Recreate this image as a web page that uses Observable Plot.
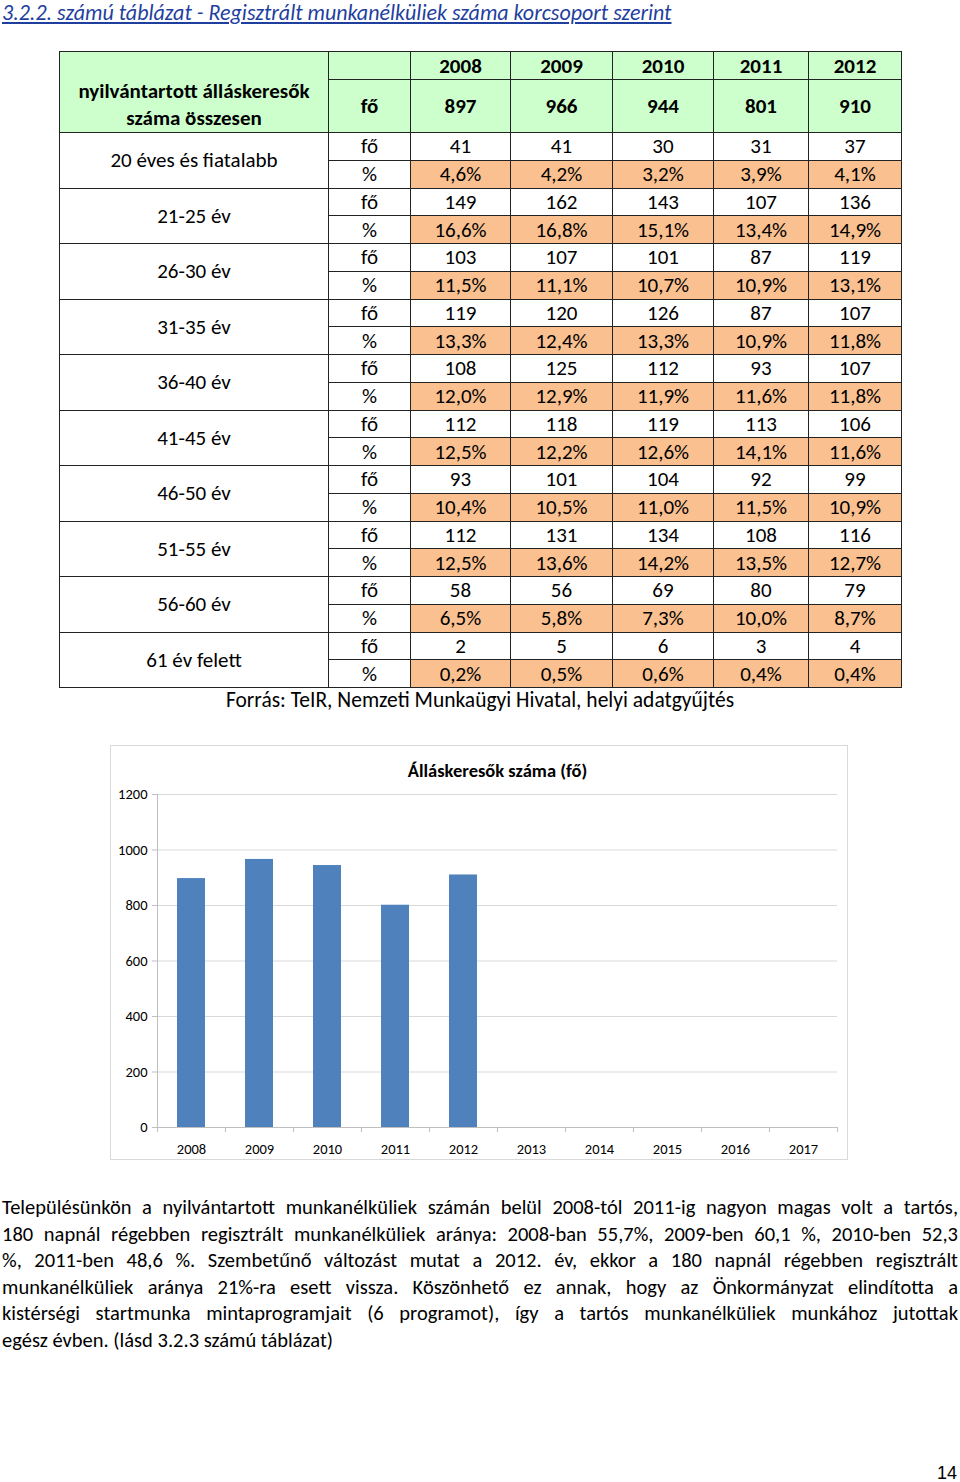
<!DOCTYPE html>
<html><head><meta charset="utf-8">
<script src="https://cdn.jsdelivr.net/npm/d3@7"></script>
<script src="https://cdn.jsdelivr.net/npm/@observablehq/plot@0.6"></script>
<style>
body{margin:0;background:#fff;font-family:Carlito,Lato,sans-serif;color:#000;}
#page{position:relative;width:960px;height:1482px;overflow:hidden;background:#fff;}
#title{position:absolute;left:2px;top:0;font-size:22px;font-style:italic;text-decoration:underline;color:#1f3f9f;line-height:26px;white-space:nowrap;}
table{position:absolute;left:59px;top:51px;border-collapse:collapse;table-layout:fixed;width:842px;}
td{border:1px solid #222;padding:0;text-align:center;font-size:21px;line-height:22px;overflow:hidden;white-space:nowrap;}
td.g{background:#ccffcc;font-weight:bold;}
td.o{background:#fac090;}
td.lbl{vertical-align:middle;}
td.tot{vertical-align:bottom;white-space:normal;line-height:27px;padding-bottom:0;}
#source{position:absolute;left:59px;width:842px;top:688px;text-align:center;font-size:21.5px;line-height:24px;}
#chart{position:absolute;left:110px;top:745px;width:738px;height:415px;border:1px solid #d9d9d9;box-sizing:border-box;}
#chart svg{display:block;}
#para{position:absolute;left:2px;top:1194px;width:956px;font-size:20.5px;}
#para div{line-height:26.6px;height:26.6px;text-align:justify;text-align-last:justify;white-space:nowrap;}
#para div.last{text-align-last:left;}
#pnum{position:absolute;right:3px;top:1462px;font-family:"Liberation Sans",Arial,sans-serif;font-size:18px;line-height:22px;}
</style></head>
<body>
<div id="page">
  <div id="title"></div>
  <table id="tbl"></table>
  <div id="source"></div>
  <div id="chart"></div>
  <div id="para"></div>
  <div id="pnum">14</div>
</div>
<script>
const titleText = "3.2.2. számú táblázat - Regisztrált munkanélküliek száma korcsoport szerint";
const tableYears = [2008, 2009, 2010, 2011, 2012];
const totalLabel = "nyilvántartott álláskeresők száma összesen";
const totals = [897, 966, 944, 801, 910];
const ageGroups = ["20 éves és fiatalabb", "21-25 év", "26-30 év", "31-35 év", "36-40 év", "41-45 év", "46-50 év", "51-55 év", "56-60 év", "61 év felett"];
const groupCounts = [
  [41, 41, 30, 31, 37],
  [149, 162, 143, 107, 136],
  [103, 107, 101, 87, 119],
  [119, 120, 126, 87, 107],
  [108, 125, 112, 93, 107],
  [112, 118, 119, 113, 106],
  [93, 101, 104, 92, 99],
  [112, 131, 134, 108, 116],
  [58, 56, 69, 80, 79],
  [2, 5, 6, 3, 4]
];
const groupPercents = [
  [4.6, 4.2, 3.2, 3.9, 4.1],
  [16.6, 16.8, 15.1, 13.4, 14.9],
  [11.5, 11.1, 10.7, 10.9, 13.1],
  [13.3, 12.4, 13.3, 10.9, 11.8],
  [12.0, 12.9, 11.9, 11.6, 11.8],
  [12.5, 12.2, 12.6, 14.1, 11.6],
  [10.4, 10.5, 11.0, 11.5, 10.9],
  [12.5, 13.6, 14.2, 13.5, 12.7],
  [6.5, 5.8, 7.3, 10.0, 8.7],
  [0.2, 0.5, 0.6, 0.4, 0.4]
];
const unitCount = "fő";
const unitPct = "%";
const sourceText = "Forrás: TeIR, Nemzeti Munkaügyi Hivatal, helyi adatgyűjtés";

const chartTitle = "Álláskeresők száma (fő)";
const chartYears = ["2008", "2009", "2010", "2011", "2012", "2013", "2014", "2015", "2016", "2017"];
const chartValues = [897, 966, 944, 801, 910, null, null, null, null, null];
const yTicks = [0, 200, 400, 600, 800, 1000, 1200];

const paragraphLines = [
  "Településünkön a nyilvántartott munkanélküliek számán belül 2008-tól 2011-ig nagyon magas volt a tartós,",
  "180 napnál régebben regisztrált munkanélküliek aránya: 2008-ban 55,7%, 2009-ben 60,1 %, 2010-ben 52,3",
  "%, 2011-ben 48,6 %. Szembetűnő változást mutat a 2012. év, ekkor a 180 napnál régebben regisztrált",
  "munkanélküliek aránya 21%-ra esett vissza. Köszönhető ez annak, hogy az Önkormányzat elindította a",
  "kistérségi startmunka mintaprogramjait (6 programot), így a tartós munkanélküliek munkához jutottak",
  "egész évben. (lásd 3.2.3 számú táblázat)"
];

// ---- title
document.getElementById("title").textContent = titleText;

// ---- table
const colWidths = [269, 82, 100, 102, 101, 95, 93];
const tbl = d3.select("#tbl");
const cg = tbl.append("colgroup");
colWidths.forEach(w => cg.append("col").style("width", w + "px"));
const fmtPct = v => v.toFixed(1).replace(".", ",") + "%";
let tr = tbl.append("tr").style("height", "28px");
tr.append("td").attr("class", "g tot").attr("rowspan", 2).text(totalLabel);
tr.append("td").attr("class", "g");
tableYears.forEach(y => tr.append("td").attr("class", "g").text(y));
tr = tbl.append("tr").style("height", "53px");
tr.append("td").attr("class", "g").text(unitCount);
totals.forEach(v => tr.append("td").attr("class", "g").text(v));
ageGroups.forEach((g, i) => {
  let r1 = tbl.append("tr").style("height", "27.75px");
  r1.append("td").attr("class", "lbl").attr("rowspan", 2).text(g);
  r1.append("td").text(unitCount);
  groupCounts[i].forEach(v => r1.append("td").text(v));
  let r2 = tbl.append("tr").style("height", "27.75px");
  r2.append("td").text(unitPct);
  groupPercents[i].forEach(v => r2.append("td").attr("class", "o").text(fmtPct(v)));
});
document.getElementById("source").textContent = sourceText;

// ---- chart
const chartData = chartYears.map((y, i) => ({year: y, value: chartValues[i]}));
const axisGray = "#bfbfbf";
const chart = Plot.plot({
  width: 736, height: 413,
  marginLeft: 46, marginRight: 10, marginTop: 48, marginBottom: 32,
  style: {fontFamily: "Carlito, Lato, sans-serif", fontSize: "14.5px", color: "#000", background: "transparent"},
  x: {type: "band", domain: chartYears, paddingInner: 0.59, paddingOuter: 0.295, label: null},
  y: {domain: [0, 1200], label: null},
  marks: [
    Plot.gridY(yTicks, {stroke: "#d9d9d9", strokeOpacity: 1}),
    Plot.frame({anchor: "left", stroke: axisGray}),
    Plot.barY(chartData.filter(d => d.value != null), {x: "year", y: "value", fill: "#4f81bd"}),
    Plot.ruleY([0], {stroke: axisGray}),
    Plot.axisY(yTicks, {tickSize: 5, tickPadding: 5, tickFormat: d3.format("d"), stroke: axisGray, fill: "#000", label: null}),
    Plot.axisX({tickSize: 0, tickPadding: 16, fill: "#000", label: null}),
    Plot.axisX({tickSize: 5, tickFormat: () => "", dx: -34, stroke: axisGray, label: null}),
    Plot.axisX([chartYears[chartYears.length - 1]], {tickSize: 5, tickFormat: () => "", dx: 34, stroke: axisGray, label: null}),
    Plot.text([chartTitle], {frameAnchor: "top", dy: -31, fontWeight: "bold", fontSize: 18.5, fill: "#000"})
  ]
});
document.getElementById("chart").appendChild(chart);

// ---- paragraph
const para = d3.select("#para");
paragraphLines.forEach((l, i) => {
  para.append("div").attr("class", i === paragraphLines.length - 1 ? "last" : null).text(l);
});
</script>
</body></html>
